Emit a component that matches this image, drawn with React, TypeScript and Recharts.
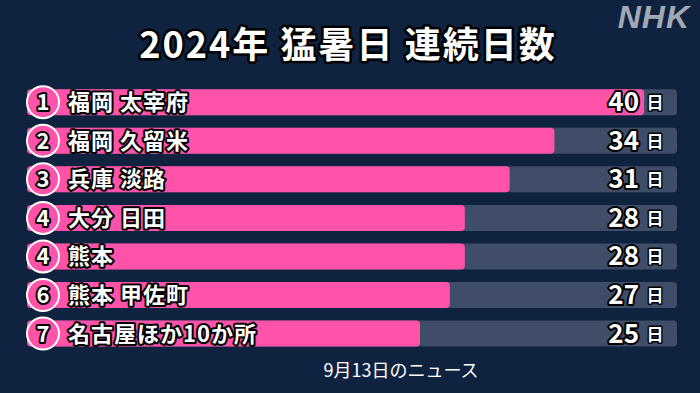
import React from "react";
import { BarChart, Bar, XAxis, YAxis, LabelList } from "recharts";

const ranks = ["1", "2", "3", "4", "4", "6", "7"];
const places = ["福岡 太宰府", "福岡 久留米", "兵庫 淡路", "大分 日田", "熊本", "熊本 甲佐町", "名古屋ほか10か所"];
const days = [40, 34, 31, 28, 28, 27, 25];

const data = places.map((p, i) => ({ place: p, rank: ranks[i], days: days[i] }));

const W = 700;
const H = 393;
const LEFT = 27;
const RIGHT = 677;
const BG = "#0f2341";
const PINK = "#ff52a9";
const TRACK = "#3f4d68";
const FONT = "'Noto Sans CJK JP', 'Noto Sans', sans-serif";

const outline = {
  stroke: "#000",
  strokeWidth: 4,
  strokeLinejoin: "round" as const,
  paintOrder: "stroke" as const,
};

const BarShape = (p: any) => {
  const right = p.x + p.width;
  return <rect x={LEFT} y={p.y} width={right - LEFT} height={p.height} rx={4} ry={4} fill={PINK} />;
};

const RowLabel = (props: any) => {
  const { y, height, index } = props;
  const cy = y + height / 2;
  const d = data[index];
  return (
    <g fontFamily={FONT} fontWeight="bold">
      <circle cx={43} cy={cy} r={16} fill={PINK} stroke="#fff" strokeWidth={2} />
      <text x={43} y={cy + 8} textAnchor="middle" fontSize={22} fill="#fff" {...outline}>
        {d.rank}
      </text>
      <text x={68} y={cy + 8} fontSize={22} letterSpacing={1} fill="#fff" {...outline}>
        {d.place}
      </text>
      <text x={639} y={cy + 9} textAnchor="end" fontSize={26} fill="#fff" {...outline}>
        {d.days}
      </text>
      <text x={655} y={cy + 7} textAnchor="middle" fontSize={17} fill="#fff" {...outline} strokeWidth={3}>
        日
      </text>
    </g>
  );
};

export default function App() {
  return (
    <div style={{ position: "absolute", top: 0, left: 0, width: W, height: H, background: BG, overflow: "hidden" }}>
      <BarChart
        width={W}
        height={H}
        data={data}
        layout="vertical"
        margin={{ top: 83, right: W - RIGHT, bottom: 40, left: LEFT }}
        barCategoryGap="16%"
      >
        <XAxis type="number" hide domain={[-1.3, 42.2]} />
        <YAxis type="category" dataKey="place" hide />
        <Bar
          dataKey="days"
          isAnimationActive={false}
          background={{ fill: TRACK, radius: 4 } as any}
          shape={BarShape}
        >
          <LabelList dataKey="days" content={RowLabel} />
        </Bar>
      </BarChart>
      <svg width={W} height={H} style={{ position: "absolute", top: 0, left: 0, pointerEvents: "none" }}>
        <text
          x={348}
          y={58}
          textAnchor="middle"
          fontFamily={FONT}
          fontWeight="bold"
          fontSize={36}
          letterSpacing={2}
          fill="#fff"
          stroke="#000"
          strokeWidth={5}
          strokeLinejoin="round"
          paintOrder="stroke"
        >
          2024年 猛暑日 連続日数
        </text>
        <text
          x={690}
          y={28}
          textAnchor="end"
          fontFamily="'Liberation Sans', Arial, sans-serif"
          fontWeight="bold"
          fontStyle="italic"
          fontSize={32}
          letterSpacing={1}
          fill="#a3a9b4"
        >
          NHK
        </text>
        <text x={401} y={377} textAnchor="middle" fontFamily={FONT} fontSize={18} fill="#fff">
          9月13日のニュース
        </text>
      </svg>
    </div>
  );
}
